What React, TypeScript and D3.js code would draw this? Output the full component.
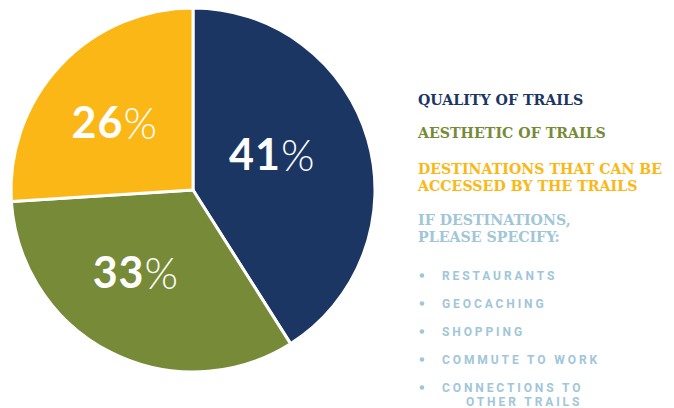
import React from "react";
import * as d3 from "d3";

const categories = ["Quality of Trails", "Aesthetic of Trails", "Destinations"];
const values = [41, 33, 26];
const colors = ["#1c3664", "#778a38", "#fbb715"];
const legendLines = [
  ["QUALITY OF TRAILS"],
  ["AESTHETIC OF TRAILS"],
  ["DESTINATIONS THAT CAN BE", "ACCESSED BY THE TRAILS"],
];
const subHeader = ["IF DESTINATIONS,", "PLEASE SPECIFY:"];
const subItems = [["RESTAURANTS"], ["GEOCACHING"], ["SHOPPING"], ["COMMUTE TO WORK"], ["CONNECTIONS TO", "OTHER TRAILS"]];

const W = 674;
const H = 408;
const cx = 193;
const cy = 190;
const R = 182;
const LABEL_R = 95;
const labelNudge = [[-12, -10], [-14, -3], [-9, -3]];

export default function App() {
  const pie = d3.pie<number>().value((d) => d).sort(null);
  const arcs = pie(values);
  const arc = d3.arc<d3.PieArcDatum<number>>().innerRadius(0).outerRadius(R);
  const labelArc = d3.arc<d3.PieArcDatum<number>>().innerRadius(LABEL_R).outerRadius(LABEL_R);

  const legendY = [105, 138, 174];
  const lh = 17;
  const subBase = 280;
  const subStep = 28;
  const lightBlue = "#a0c6d8";

  return (
    <svg
      width={W}
      height={H}
      style={{ position: "absolute", left: 0, top: 0, background: "#fff" }}
    >
      <g transform={`translate(${cx},${cy})`}>
        {arcs.map((a, i) => (
          <path key={categories[i]} d={arc(a) || ""} fill={colors[i]} stroke="#fff" strokeWidth={3} strokeLinejoin="round" />
        ))}
        {arcs.map((a, i) => {
          const [x, y] = labelArc.centroid(a);
          return (
            <text
              key={"l" + i}
              x={x + labelNudge[i][0]}
              y={y + labelNudge[i][1]}
              textAnchor="middle"
              dominantBaseline="central"
              fill="#fff"
              style={{ fontFamily: "Lato, 'Open Sans', sans-serif", fontSize: 43, fontWeight: 700, letterSpacing: 1 }}
            >
              {values[i]}
              <tspan style={{ fontWeight: 300 }}>%</tspan>
            </text>
          );
        })}
      </g>
      <g style={{ fontFamily: "'DejaVu Serif', serif", fontWeight: 700, fontSize: 14.2 }}>
        {legendLines.map((lines, i) =>
          lines.map((t, j) => (
            <text key={`lg${i}-${j}`} x={418} y={legendY[i] + j * lh} fill={colors[i]}>
              {t}
            </text>
          ))
        )}
        {subHeader.map((t, j) => (
          <text key={"sh" + j} x={418} y={225 + j * lh} fill={lightBlue}>
            {t}
          </text>
        ))}
      </g>
      <g style={{ fontFamily: "Roboto, sans-serif", fontWeight: 700, fontSize: 12, letterSpacing: 2.9 }}>
        {subItems.map((lines, i) => (
          <g key={"si" + i}>
            <circle cx={422} cy={subBase + i * subStep - 4.5} r={2.3} fill={lightBlue} />
            {lines.map((t, j) => (
              <text key={j} x={j === 0 ? 442 : 466} y={subBase + i * subStep + j * 14} fill={lightBlue}>
                {t}
              </text>
            ))}
          </g>
        ))}
      </g>
    </svg>
  );
}
